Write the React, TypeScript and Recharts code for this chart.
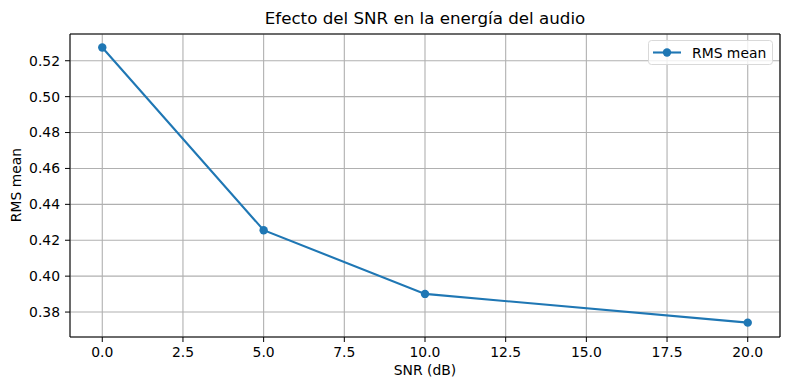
import React from 'react';
import { LineChart, Line, XAxis, YAxis, CartesianGrid, Label, ReferenceLine } from 'recharts';

const snr = [0, 5, 10, 20];
const rmsMean = [0.5274, 0.4256, 0.3901, 0.3741];
const xTicks = [0, 2.5, 5, 7.5, 10, 12.5, 15, 17.5, 20];
const yTicks = [0.38, 0.4, 0.42, 0.44, 0.46, 0.48, 0.5, 0.52];
const xDomain: [number, number] = [-1, 21];
const yDomain: [number, number] = [0.3661, 0.5349];
const title = 'Efecto del SNR en la energía del audio';
const xLabel = 'SNR (dB)';
const yLabel = 'RMS mean';
const seriesName = 'RMS mean';

const data = snr.map((s, i) => ({ snr: s, rms: rmsMean[i] }));

const FONT = 'DejaVu Sans, sans-serif';
const BLUE = '#1f77b4';

const LegendBox = () => (
  <svg width={126} height={26} style={{ display: 'block' }}>
    <rect x={0.5} y={0.5} width={124} height={24} rx={3} fill="#fff" fillOpacity={0.8} stroke="#d9d9d9" />
    <line x1={5} y1={12.5} x2={33} y2={12.5} stroke={BLUE} strokeWidth={2.1} />
    <circle cx={19} cy={12.5} r={4.2} fill={BLUE} />
    <text x={44} y={17.5} fontFamily={FONT} fontSize={13.9} fill="#000">{seriesName}</text>
  </svg>
);

export default function App() {
  return (
    <div style={{ position: 'absolute', left: 0, top: 0, width: 790, height: 390, background: '#fff' }}>
      <LineChart width={790} height={390} data={data} margin={{ top: 34, right: 10, bottom: 0, left: 0 }}>
        <CartesianGrid stroke="#b0b0b0" strokeWidth={1.1} />
        <XAxis
          dataKey="snr"
          type="number"
          domain={xDomain}
          ticks={xTicks}
          allowDataOverflow
          height={53}
          stroke="#000"
          tickSize={5}
          tickMargin={5}
          tick={{ fill: '#000', fontFamily: FONT, fontSize: 13.9 }}
          tickFormatter={(v: number) => v.toFixed(1)}
        >
          <Label
            content={() => (
              <text x={425} y={375} textAnchor="middle" fontFamily={FONT} fontSize={13.9} fill="#000">{xLabel}</text>
            )}
          />
        </XAxis>
        <YAxis
          type="number"
          domain={yDomain}
          ticks={yTicks}
          allowDataOverflow
          width={70}
          stroke="#000"
          tickSize={5}
          tickMargin={5}
          tick={{ fill: '#000', fontFamily: FONT, fontSize: 13.9 }}
          tickFormatter={(v: number) => v.toFixed(2)}
        >
          <Label
            content={() => (
              <text x={21} y={185} transform="rotate(-90 21 185)" textAnchor="middle" fontFamily={FONT} fontSize={13.9} fill="#000">{yLabel}</text>
            )}
          />
        </YAxis>
        <ReferenceLine y={yDomain[1]} stroke="#000" strokeWidth={1.1} ifOverflow="visible" />
        <ReferenceLine x={xDomain[1]} stroke="#000" strokeWidth={1.1} ifOverflow="visible" />
        <Line
          dataKey="rms"
          stroke={BLUE}
          strokeWidth={2.1}
          dot={{ r: 4.2, fill: BLUE, stroke: BLUE, strokeWidth: 0 }}
          activeDot={false}
          isAnimationActive={false}
        />
        <text x={425} y={24} textAnchor="middle" fontFamily={FONT} fontSize={16.7} fill="#000">{title}</text>
      </LineChart>
      <div style={{ position: 'absolute', left: 648, top: 40 }}>
        <LegendBox />
      </div>
    </div>
  );
}
